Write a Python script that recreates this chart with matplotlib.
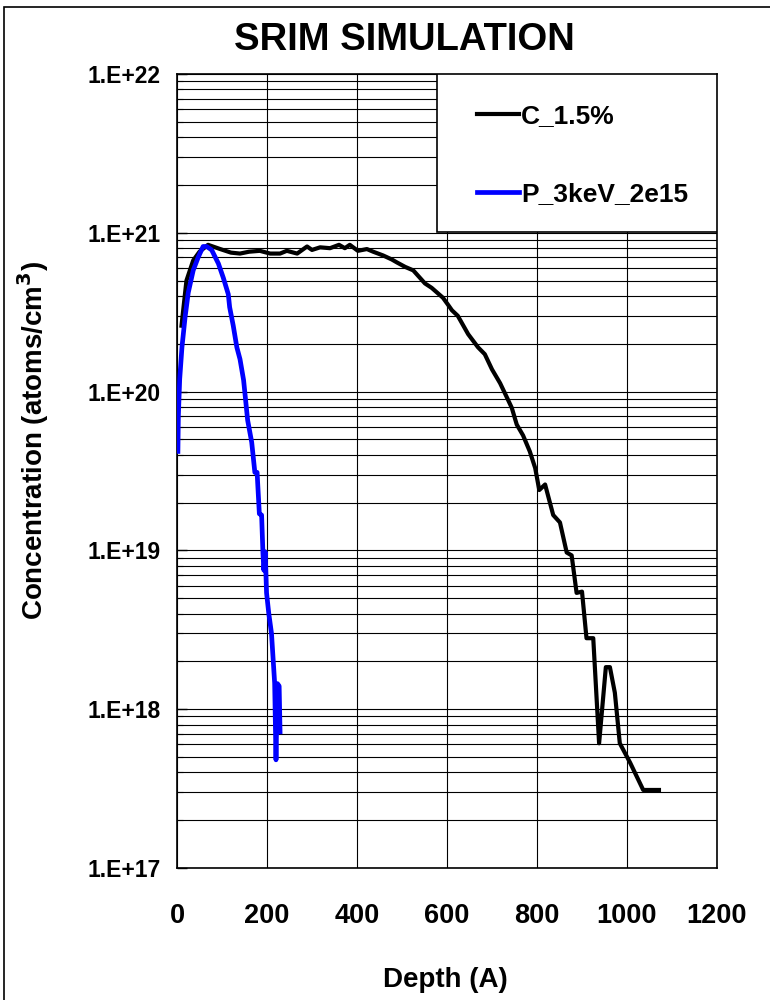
import numpy as np
import matplotlib.pyplot as plt
from matplotlib.patches import Rectangle
from matplotlib.ticker import LogLocator, NullFormatter

plt.rcParams['font.family'] = ['Liberation Sans', 'DejaVu Sans']
plt.rcParams['font.weight'] = 'bold'

# carbon profile
c_depth = [10, 21, 36, 50, 69, 96, 120, 140, 160, 184, 207, 229, 244, 267, 289, 300,
           318, 340, 360, 373, 384, 402, 422, 436, 458, 477, 489, 507, 525, 551, 566,
           591, 603, 611, 624, 647, 669, 684, 700, 718, 733, 744, 755, 769, 784, 796,
           805, 818, 836, 851, 866, 877, 888, 900, 910, 925, 938, 953, 962, 973, 984,
           1007, 1036, 1071]
c_conc = [2.6e20, 5.0e20, 6.7e20, 7.6e20, 8.4e20, 7.9e20, 7.5e20, 7.4e20, 7.6e20, 7.7e20,
          7.4e20, 7.4e20, 7.7e20, 7.4e20, 8.2e20, 7.8e20, 8.1e20, 8.0e20, 8.4e20, 8.0e20,
          8.4e20, 7.7e20, 7.9e20, 7.6e20, 7.2e20, 6.8e20, 6.5e20, 6.1e20, 5.8e20, 4.8e20,
          4.5e20, 3.9e20, 3.5e20, 3.25e20, 3.0e20, 2.3e20, 1.9e20, 1.72e20, 1.38e20,
          1.13e20, 9.2e19, 7.9e19, 6.2e19, 5.3e19, 4.2e19, 3.3e19, 2.4e19, 2.6e19,
          1.67e19, 1.5e19, 9.7e18, 9.3e18, 5.4e18, 5.5e18, 2.8e18, 2.8e18, 6.1e17,
          1.84e18, 1.84e18, 1.27e18, 6.1e17, 4.6e17, 3.1e17, 3.1e17]

# phosphorus implant profile
p_depth = [2, 3, 6, 11, 18, 25, 36, 47, 58, 66, 77, 92, 103, 114, 117, 125, 133, 140,
           148, 157, 166, 173, 178, 183, 188, 191, 193, 196, 199, 204, 210, 217, 220,
           223, 227, 229]
p_conc = [4.2e19, 7e19, 1.2e20, 1.9e20, 2.95e20, 4.2e20, 5.8e20, 7.0e20, 8.2e20, 8.2e20,
          7.8e20, 6.4e20, 5.2e20, 4.1e20, 3.4e20, 2.6e20, 1.9e20, 1.6e20, 1.18e20, 6.6e19,
          4.8e19, 3.1e19, 3.1e19, 1.7e19, 1.67e19, 9.6e18, 7.5e18, 9.8e18, 5.4e18, 4.0e18,
          3.0e18, 1.46e18, 4.8e17, 1.45e18, 1.4e18, 7.2e17]

x_ticks = [0, 200, 400, 600, 800, 1000, 1200]
y_ticks = [1e17, 1e18, 1e19, 1e20, 1e21, 1e22]
y_labels = ['1.E+17', '1.E+18', '1.E+19', '1.E+20', '1.E+21', '1.E+22']

fig = plt.figure(figsize=(7.7, 10), dpi=100)
ax = fig.add_axes([177 / 770, 0.132, 540 / 770, 0.794])

ax.plot(c_depth, c_conc, color='black', lw=3.0, label='C_1.5%', zorder=4)
ax.plot(p_depth, p_conc, color='#0000ff', lw=3.4, label='P_3keV_2e15', zorder=5)

ax.set_yscale('log')
ax.set_xlim(0, 1200)
ax.set_ylim(1e17, 1e22)
ax.set_xticks(x_ticks)
ax.set_yticks(y_ticks)
ax.set_yticklabels(y_labels)
ax.yaxis.set_minor_locator(LogLocator(base=10, subs=np.arange(2, 10)))
ax.yaxis.set_minor_formatter(NullFormatter())
ax.tick_params(axis='y', which='major', direction='in', length=7, width=1,
               labelsize=16.5, pad=12)
ax.tick_params(axis='y', which='minor', direction='in', length=4, width=0.8)
ax.tick_params(axis='x', which='major', direction='in', length=0, labelsize=19.5, pad=25)
for lbl in ax.get_xticklabels() + ax.get_yticklabels():
    lbl.set_fontweight('bold')

# gridlines: every decade subdivision horizontally, major depth steps vertically
ax.grid(True, axis='y', which='both', color='black', lw=0.8, zorder=1)
ax.grid(True, axis='x', which='major', color='black', lw=0.8, zorder=1)
for s in ax.spines.values():
    s.set_linewidth(1.2)

# legend panel in the upper right corner
ax.add_patch(Rectangle((0.481, 0.801), 0.519, 0.199, transform=ax.transAxes,
                       facecolor='white', edgecolor='black', lw=1.2, zorder=6))
leg = ax.legend(loc='upper left', bbox_to_anchor=(0.555, 0.962), frameon=False,
                prop={'size': 19, 'weight': 'bold'}, handlelength=1.6,
                handletextpad=0.08, labelspacing=2.05, borderpad=0, borderaxespad=0)
leg.set_zorder(7)

fig.text(404 / 770, 0.96, 'SRIM SIMULATION', ha='center', va='center',
         fontsize=27.5, fontweight='bold')
fig.text(445 / 770, 0.02, 'Depth (A)', ha='center', va='center',
         fontsize=20, fontweight='bold')
fig.text(33 / 770, 0.56, 'Concentration (atoms/cm$^\\mathbf{3}$)', ha='center',
         va='center', rotation=90, fontsize=20, fontweight='bold')

# outer frame of the chart area
fig.add_artist(Rectangle((4 / 770, -0.05), 1.1, 1.05 - 0.007, transform=fig.transFigure,
                         fill=False, edgecolor='black', lw=1.2))

fig.savefig('out.png', dpi=100)
